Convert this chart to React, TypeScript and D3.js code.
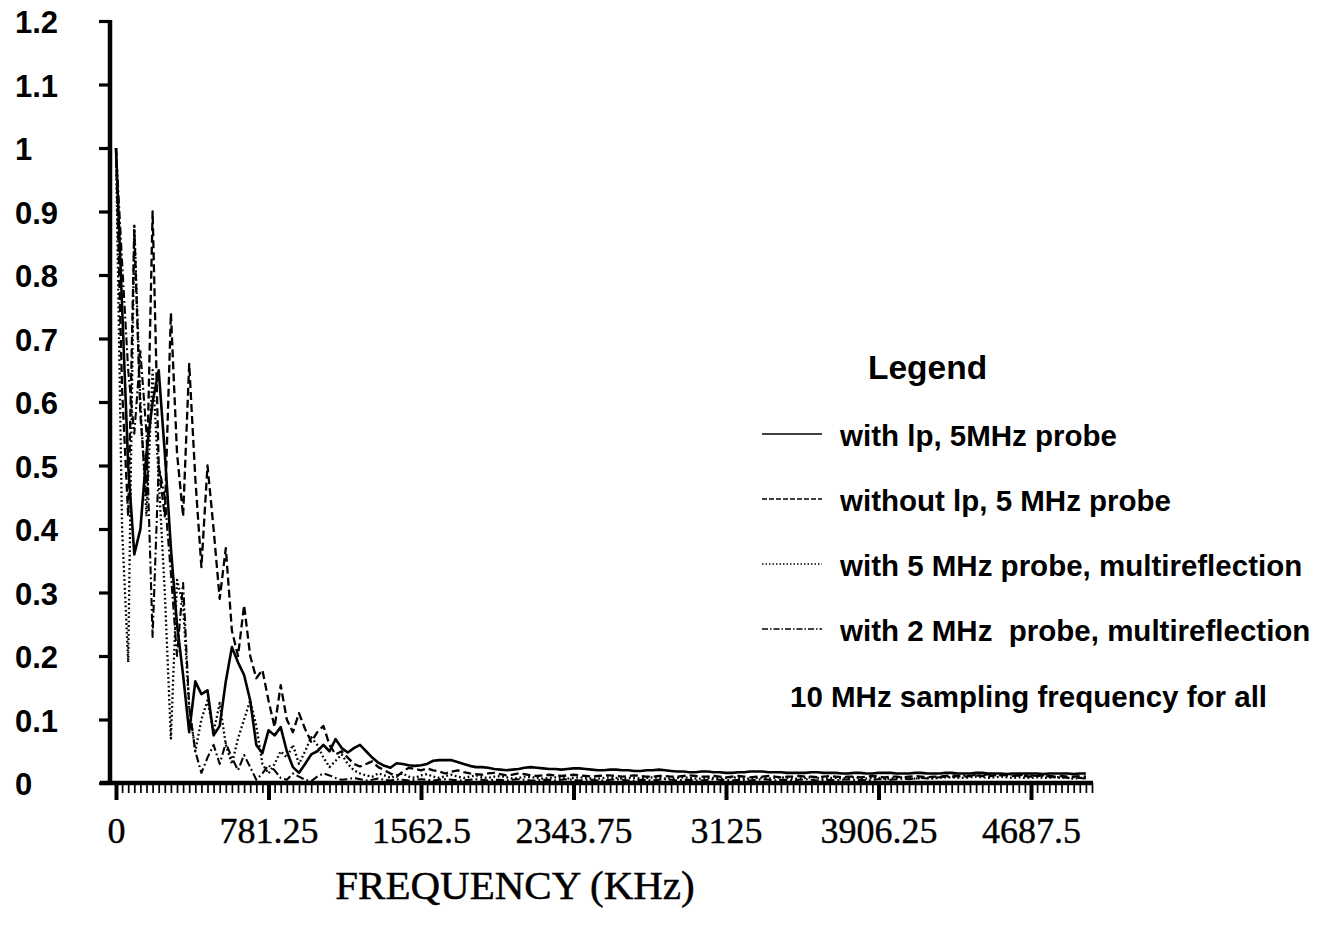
import React, { useEffect, useRef } from 'react';
import * as d3 from 'd3';

// FFT bins, 31.25 KHz apart (10 MHz sampling), 160 bins up to ~5000 KHz
const binCount = 160
const binsPerLabel = 25
const xTickLabels = ['0', '781.25', '1562.5', '2343.75', '3125', '3906.25', '4687.5']
const yTicks = [0, 0.1, 0.2, 0.3, 0.4, 0.5, 0.6, 0.7, 0.8, 0.9, 1, 1.1, 1.2]
const yTickLabels = ['0', '0.1', '0.2', '0.3', '0.4', '0.5', '0.6', '0.7', '0.8', '0.9', '1', '1.1', '1.2']

// with lp, 5MHz probe (solid)
const withLp5 = [
    1.00, 0.75, 0.50, 0.36, 0.40, 0.52, 0.60, 0.65, 0.52, 0.37,
    0.25, 0.17, 0.08, 0.16, 0.14, 0.146, 0.075, 0.09, 0.16, 0.214,
    0.19, 0.17, 0.13, 0.06, 0.047, 0.083, 0.075, 0.088, 0.05, 0.025,
    0.016, 0.03, 0.045, 0.05, 0.06, 0.05, 0.069, 0.055, 0.048, 0.055,
    0.06, 0.05, 0.04, 0.032, 0.027, 0.024, 0.031, 0.03, 0.028, 0.027,
    0.028, 0.03, 0.035, 0.036, 0.036, 0.036, 0.033, 0.03, 0.027, 0.025,
    0.025, 0.024, 0.022, 0.021, 0.02, 0.021, 0.022, 0.024, 0.025, 0.024,
    0.023, 0.022, 0.022, 0.021, 0.022, 0.023, 0.023, 0.022, 0.021, 0.02,
    0.02, 0.021, 0.021, 0.02, 0.02, 0.019, 0.019, 0.02, 0.02, 0.021,
    0.02, 0.019, 0.018, 0.018, 0.017, 0.017, 0.018, 0.018, 0.017, 0.017,
    0.016, 0.016, 0.017, 0.017, 0.018, 0.018, 0.018, 0.017, 0.017, 0.017,
    0.016, 0.016, 0.016, 0.016, 0.017, 0.017, 0.016, 0.016, 0.016, 0.015,
    0.015, 0.016, 0.016, 0.015, 0.015, 0.016, 0.016, 0.016, 0.015, 0.015,
    0.015, 0.016, 0.016, 0.015, 0.015, 0.015, 0.016, 0.016, 0.015, 0.015,
    0.015, 0.016, 0.016, 0.015, 0.015, 0.015, 0.014, 0.015, 0.015, 0.015,
    0.015, 0.015, 0.014, 0.015, 0.015, 0.015, 0.015, 0.014, 0.015, 0.015
]

// without lp, 5 MHz probe (dashed)
const withoutLp5 = [
    1.00, 0.62, 0.42, 0.87, 0.58, 0.45, 0.90, 0.50, 0.42, 0.74,
    0.52, 0.42, 0.66, 0.48, 0.34, 0.50, 0.40, 0.29, 0.37, 0.24,
    0.20, 0.28, 0.20, 0.165, 0.178, 0.13, 0.088, 0.154, 0.10, 0.08,
    0.11, 0.085, 0.065, 0.08, 0.09, 0.06, 0.045, 0.05, 0.04, 0.03,
    0.026, 0.03, 0.034, 0.025, 0.02, 0.015, 0.01, 0.018, 0.024, 0.022,
    0.02, 0.023, 0.02, 0.018, 0.015, 0.018, 0.02, 0.017, 0.015, 0.014,
    0.013, 0.015, 0.016, 0.014, 0.012, 0.013, 0.015, 0.014, 0.012, 0.011,
    0.012, 0.013, 0.012, 0.011, 0.012, 0.013, 0.012, 0.011, 0.01, 0.011,
    0.012, 0.012, 0.011, 0.01, 0.011, 0.012, 0.011, 0.01, 0.01, 0.011,
    0.011, 0.01, 0.01, 0.011, 0.012, 0.011, 0.01, 0.01, 0.011, 0.01,
    0.009, 0.01, 0.011, 0.01, 0.009, 0.01, 0.01, 0.011, 0.01, 0.009,
    0.01, 0.01, 0.011, 0.01, 0.01, 0.009, 0.01, 0.011, 0.01, 0.009,
    0.01, 0.01, 0.009, 0.01, 0.011, 0.01, 0.009, 0.01, 0.01, 0.009,
    0.01, 0.011, 0.01, 0.009, 0.01, 0.01, 0.011, 0.012, 0.011, 0.01,
    0.011, 0.012, 0.011, 0.01, 0.012, 0.013, 0.012, 0.011, 0.012, 0.011,
    0.01, 0.011, 0.012, 0.011, 0.01, 0.011, 0.01, 0.01, 0.011, 0.01
]

// with 5 MHz probe, multireflection (dotted)
const multi5 = [
    1.00, 0.40, 0.19, 0.88, 0.60, 0.42, 0.65, 0.48, 0.30, 0.07,
    0.32, 0.28, 0.12, 0.05, 0.10, 0.13, 0.08, 0.126, 0.06, 0.03,
    0.07, 0.10, 0.13, 0.09, 0.03, 0.015, 0.03, 0.05, 0.04, 0.06,
    0.03, 0.05, 0.072, 0.06, 0.04, 0.025, 0.035, 0.045, 0.03, 0.02,
    0.015, 0.012, 0.01, 0.015, 0.012, 0.008, 0.012, 0.015, 0.01, 0.008,
    0.012, 0.014, 0.01, 0.008, 0.011, 0.013, 0.01, 0.008, 0.01, 0.012,
    0.009, 0.008, 0.01, 0.011, 0.009, 0.007, 0.008, 0.01, 0.009, 0.008,
    0.007, 0.008, 0.009, 0.008, 0.007, 0.008, 0.009, 0.008, 0.007, 0.007,
    0.008, 0.009, 0.008, 0.007, 0.008, 0.008, 0.007, 0.008, 0.009, 0.008,
    0.007, 0.007, 0.008, 0.009, 0.008, 0.007, 0.007, 0.008, 0.008, 0.007,
    0.008, 0.009, 0.008, 0.007, 0.007, 0.008, 0.008, 0.007, 0.008, 0.009,
    0.008, 0.007, 0.007, 0.008, 0.009, 0.008, 0.007, 0.008, 0.008, 0.007,
    0.008, 0.009, 0.008, 0.007, 0.008, 0.008, 0.007, 0.007, 0.008, 0.009,
    0.008, 0.007, 0.008, 0.008, 0.007, 0.008, 0.009, 0.009, 0.008, 0.008,
    0.009, 0.01, 0.009, 0.008, 0.009, 0.01, 0.009, 0.008, 0.009, 0.008,
    0.008, 0.009, 0.008, 0.008, 0.009, 0.008, 0.008, 0.007, 0.008, 0.008
]

// with 2 MHz probe, multireflection (dash-dot)
const multi2 = [
    1.00, 0.82, 0.65, 0.55, 0.68, 0.55, 0.23, 0.50, 0.45, 0.33,
    0.20, 0.315, 0.12, 0.05, 0.016, 0.04, 0.06, 0.03, 0.063, 0.04,
    0.02, 0.044, 0.025, 0.005, 0.015, 0.028, 0.02, 0.008, 0.005, 0.015,
    0.01, 0.005, 0.003, 0.01, 0.015, 0.012, 0.008, 0.005, 0.006, 0.008,
    0.006, 0.004, 0.005, 0.007, 0.005, 0.004, 0.006, 0.005, 0.004, 0.005,
    0.006, 0.005, 0.004, 0.005, 0.006, 0.005, 0.004, 0.004, 0.005, 0.006,
    0.005, 0.004, 0.005, 0.005, 0.004, 0.005, 0.006, 0.005, 0.004, 0.004,
    0.005, 0.005, 0.004, 0.005, 0.006, 0.005, 0.004, 0.005, 0.005, 0.004,
    0.004, 0.005, 0.006, 0.005, 0.004, 0.004, 0.005, 0.005, 0.004, 0.005,
    0.006, 0.005, 0.004, 0.005, 0.005, 0.004, 0.004, 0.005, 0.006, 0.005,
    0.005, 0.004, 0.005, 0.005, 0.004, 0.005, 0.006, 0.005, 0.004, 0.005,
    0.005, 0.004, 0.005, 0.006, 0.005, 0.004, 0.005, 0.005, 0.004, 0.005,
    0.006, 0.005, 0.005, 0.004, 0.005, 0.006, 0.006, 0.005, 0.006, 0.007,
    0.006, 0.007, 0.008, 0.007, 0.008, 0.009, 0.01, 0.009, 0.011, 0.012,
    0.011, 0.013, 0.012, 0.014, 0.013, 0.012, 0.014, 0.013, 0.012, 0.013,
    0.012, 0.011, 0.012, 0.01, 0.009, 0.01, 0.008, 0.009, 0.008, 0.007
]

const seriesNames = [
    'with lp, 5MHz probe',
    'without lp, 5 MHz probe',
    'with 5 MHz probe, multireflection',
    'with 2 MHz  probe, multireflection'
]
const seriesValues = [withLp5, withoutLp5, multi5, multi2]
const seriesDash = [null, '8,4', '1.8,2.6', '8,3,1.8,3']
const seriesWidth = [2.6, 2.3, 2.3, 2.1]
const legendDash = [null, '5,2', '1.5,2', '6,2,1.5,2']

function App() {
    const ref = useRef(null)

    useEffect(() => {
        const svg = d3.select(ref.current)
        svg.selectAll('*').remove()

        const x = d3.scaleLinear().domain([0, binCount]).range([116, 1092])
        const y = d3.scaleLinear().domain([0, 1.2]).range([783, 21])
        const yAxisX = 110

        // data lines
        const line = d3.line<number>()
            .x((d, i) => x(i))
            .y(d => y(d))

        svg.append('g')
            .selectAll('path')
            .data(seriesValues)
            .enter()
            .append('path')
            .attr('d', d => line(d))
            .attr('fill', 'none')
            .attr('stroke', '#000')
            .attr('stroke-width', (d, i) => seriesWidth[i])
            .attr('stroke-linejoin', 'round')
            .attr('stroke-dasharray', (d, i) => seriesDash[i])

        // x axis: minor tick at every bin, major every 25 bins
        const minorAxis = d3.axisBottom(x)
            .tickValues(d3.range(1, binCount + 1))
            .tickSize(10)
            .tickSizeOuter(0)
            .tickFormat(() => '')
        const gMinor = svg.append('g')
            .attr('transform', 'translate(0,783)')
            .call(minorAxis)
        gMinor.select('.domain').remove()
        gMinor.selectAll('line').attr('stroke-width', 1.7)

        const majorAxis = d3.axisBottom(x)
            .tickValues(d3.range(0, binCount, binsPerLabel))
            .tickSize(17)
            .tickSizeOuter(0)
            .tickFormat((d, i) => xTickLabels[i])
        const gMajor = svg.append('g')
            .attr('transform', 'translate(0,783)')
            .call(majorAxis)
        gMajor.select('.domain').remove()
        gMajor.selectAll('line').attr('stroke-width', 4)
        gMajor.selectAll('text')
            .attr('y', 60)
            .attr('dy', null)
            .attr('font-family', '"Liberation Serif", "Times New Roman", serif')
            .attr('font-size', 36)
            .attr('fill', '#000')
            .attr('stroke', '#000')
            .attr('stroke-width', 0.4)

        svg.append('line')
            .attr('x1', 100).attr('x2', 1093)
            .attr('y1', 783).attr('y2', 783)
            .attr('stroke', '#000')
            .attr('stroke-width', 4.5)

        // y axis
        const yAxis = d3.axisLeft(y)
            .tickValues(yTicks)
            .tickSize(11)
            .tickSizeOuter(0)
            .tickFormat(() => '')
        const gY = svg.append('g')
            .attr('transform', 'translate(' + yAxisX + ',0)')
            .call(yAxis)
        gY.select('.domain').remove()
        gY.selectAll('line').attr('stroke-width', 3.2)

        svg.append('line')
            .attr('x1', yAxisX).attr('x2', yAxisX)
            .attr('y1', y(1.2) - 1).attr('y2', 785)
            .attr('stroke', '#000')
            .attr('stroke-width', 4.5)

        svg.append('g')
            .selectAll('text')
            .data(yTicks)
            .enter()
            .append('text')
            .attr('x', 15)
            .attr('y', d => y(d) + 12)
            .attr('font-family', '"Liberation Sans", Arial, sans-serif')
            .attr('font-weight', 'bold')
            .attr('font-size', 31)
            .text((d, i) => yTickLabels[i])

        // axis title
        svg.append('text')
            .attr('x', 515)
            .attr('y', 899)
            .attr('text-anchor', 'middle')
            .attr('font-family', '"Liberation Serif", "Times New Roman", serif')
            .attr('font-size', 41)
            .attr('stroke', '#000')
            .attr('stroke-width', 0.5)
            .text('FREQUENCY (KHz)')

        // legend
        const legendFont = '"Liberation Sans", Arial, sans-serif'
        svg.append('text')
            .attr('x', 868)
            .attr('y', 379)
            .attr('font-family', legendFont)
            .attr('font-weight', 'bold')
            .attr('font-size', 33.5)
            .text('Legend')

        const rowY = d3.scaleLinear().domain([0, 1]).range([446, 511])

        const rows = svg.append('g')
            .selectAll('g')
            .data(seriesNames)
            .enter()
            .append('g')
            .attr('transform', (d, i) => 'translate(0,' + rowY(i) + ')')

        rows.append('line')
            .attr('x1', 762).attr('x2', 822)
            .attr('y1', -12).attr('y2', -12)
            .attr('stroke', '#000')
            .attr('stroke-width', 1.3)
            .attr('stroke-dasharray', (d, i) => legendDash[i])

        rows.append('text')
            .attr('x', 840)
            .attr('y', 0)
            .attr('font-family', legendFont)
            .attr('font-weight', 'bold')
            .attr('font-size', 29.5)
            .style('white-space', 'pre')
            .text(d => d)

        svg.append('text')
            .attr('x', 790)
            .attr('y', 707)
            .attr('font-family', legendFont)
            .attr('font-weight', 'bold')
            .attr('font-size', 29.5)
            .text('10 MHz sampling frequency for all')
    }, [])

    return (
        <svg
            ref={ref}
            width={1323}
            height={940}
            style={{ position: 'absolute', left: 0, top: 0, background: '#fff' }}
        />
    )
}

export default App;
